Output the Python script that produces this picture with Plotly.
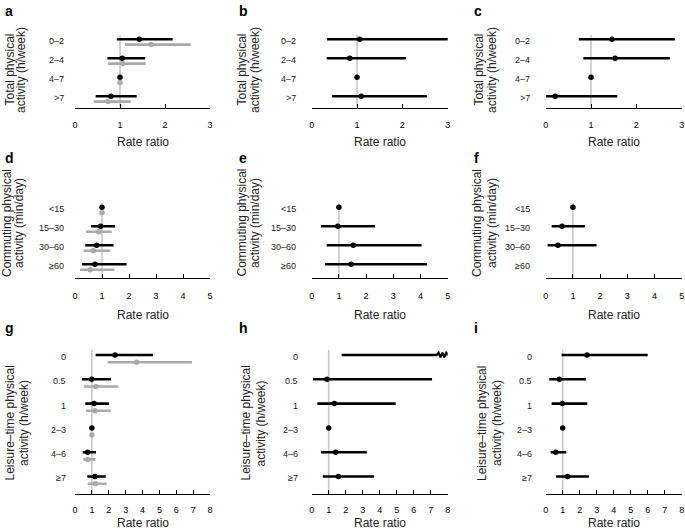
import plotly.graph_objects as go
import numpy as np

W, H = 685, 532
FONT = "Liberation Sans, Arial, Helvetica, sans-serif"

# ---------------- data ----------------
TOTAL_LABELS = ["0–2", "2–4", "4–7", ">7"]
COMMUTE_LABELS = ["<15", "15–30", "30–60", "≥60"]
LEISURE_LABELS = ["0", "0.5", "1", "2–3", "4–6", "≥7"]

X_MAX = [3, 5, 8]  # per row

YTITLES = [("Total physical", "activity (h/week)"),
           ("Commuting physical", "activity (min/day)"),
           ("Leisure–time physical", "activity (h/week)")]
XTITLE = "Rate ratio"
LETTERS = ["a", "b", "c", "d", "e", "f", "g", "h", "i"]

# panel a
a_est = [1.43, 1.05, 1.00, 0.80]
a_lo = [0.93, 0.72, 1.00, 0.46]
a_hi = [2.17, 1.56, 1.00, 1.37]
a2_est = [1.69, 1.06, 1.00, 0.73]
a2_lo = [1.11, 0.73, 1.00, 0.42]
a2_hi = [2.57, 1.57, 1.00, 1.24]
# panel b
b_est = [1.06, 0.84, 1.00, 1.09]
b_lo = [0.34, 0.33, 1.00, 0.45]
b_hi = [3.07, 2.08, 1.00, 2.54]
# panel c
c_est = [1.46, 1.53, 1.00, 0.21]
c_lo = [0.73, 0.83, 1.00, 0.01]
c_hi = [2.85, 2.74, 1.00, 1.58]
# panel d
d_est = [1.00, 0.95, 0.80, 0.74]
d_lo = [1.00, 0.59, 0.38, 0.26]
d_hi = [1.00, 1.48, 1.43, 1.91]
d2_est = [1.00, 0.88, 0.68, 0.56]
d2_lo = [1.00, 0.41, 0.32, 0.19]
d2_hi = [1.00, 1.36, 1.30, 1.46]
# panel e
e_est = [1.00, 0.96, 1.53, 1.45]
e_lo = [1.00, 0.34, 0.55, 0.49]
e_hi = [1.00, 2.33, 4.04, 4.24]
# panel f
f_est = [1.00, 0.60, 0.45, None]
f_lo = [1.00, 0.22, 0.07, None]
f_hi = [1.00, 1.45, 1.87, None]
# panel g
g_est = [2.37, 0.99, 1.13, 1.00, 0.75, 1.18]
g_lo = [1.22, 0.41, 0.61, 1.00, 0.46, 0.73]
g_hi = [4.62, 2.13, 2.01, 1.00, 1.24, 1.82]
g2_est = [3.65, 1.24, 1.18, 1.00, 0.75, 1.22]
g2_lo = [1.93, 0.53, 0.65, 1.00, 0.49, 0.75]
g2_hi = [6.93, 2.57, 2.11, 1.00, 1.21, 1.88]
# panel h (first row off-scale: estimate and upper limit beyond axis)
h_est = [None, 0.90, 1.33, 1.00, 1.41, 1.57]
h_lo = [1.76, 0.08, 0.33, 1.00, 0.55, 0.65]
h_hi = [None, 7.08, 4.94, 1.00, 3.24, 3.67]
H_BREAK = 7.35
# panel i
i_est = [2.43, 0.80, 0.98, 1.00, 0.59, 1.29]
i_lo = [0.94, 0.21, 0.35, 1.00, 0.29, 0.61]
i_hi = [6.00, 2.37, 2.45, 1.00, 1.21, 2.55]

BLACK = "#000000"
GREY = "#aaaaaa"

panels = [
    dict(labels=TOTAL_LABELS, series=[(a_est, a_lo, a_hi, BLACK), (a2_est, a2_lo, a2_hi, GREY)]),
    dict(labels=TOTAL_LABELS, series=[(b_est, b_lo, b_hi, BLACK)]),
    dict(labels=TOTAL_LABELS, series=[(c_est, c_lo, c_hi, BLACK)]),
    dict(labels=COMMUTE_LABELS, series=[(d_est, d_lo, d_hi, BLACK), (d2_est, d2_lo, d2_hi, GREY)]),
    dict(labels=COMMUTE_LABELS, series=[(e_est, e_lo, e_hi, BLACK)]),
    dict(labels=COMMUTE_LABELS, series=[(f_est, f_lo, f_hi, BLACK)]),
    dict(labels=LEISURE_LABELS, series=[(g_est, g_lo, g_hi, BLACK), (g2_est, g2_lo, g2_hi, GREY)]),
    dict(labels=LEISURE_LABELS, series=[(h_est, h_lo, h_hi, BLACK)], brk=H_BREAK),
    dict(labels=LEISURE_LABELS, series=[(i_est, i_lo, i_hi, BLACK)]),
]

# ---------------- geometry (pixels) ----------------
COL_P0 = [75, 311.7, 545.7]
COL_P1 = [210, 447.7, 681.7]
ROW_Y0 = [39.3, 207.3, 355.0]
ROW_STEP = [19.0, 19.0, 24.3]
ROW_AXIS = [107.5, 277.7, 494.3]
ROW_GREY = [5.3, 5.4, 7.2]
ROW_STANDOFF = [9, 9, 7]
ROW_XTITLE = [142, 315, 523]
LABEL_RIGHT = [[66, 298, 532], [66, 298, 532], [68, 300, 534]]
YTITLE_X = [[(9.5, 21), (241.5, 255), (478.5, 492)],
            [(7, 19), (241.5, 255), (477, 492)],
            [(9, 23.5), (245, 260), (481.5, 496.5)]]
YTITLE_Y = [70, 223, 423.5]
LETTER_X = [[3, 237, 472], [3, 237, 472], [3, 237, 472]]
LETTER_Y = [1, 148, 318]


def px_x(p):
    return p / W


def px_y(p):
    return 1 - p / H


fig = go.Figure()
layout = dict(width=W, height=H, margin=dict(l=0, r=0, t=0, b=0, autoexpand=False),
              paper_bgcolor="white", plot_bgcolor="white", showlegend=False,
              font=dict(family=FONT, color="black"))
shapes = []
annotations = []

for n, pan in enumerate(panels):
    r, c = divmod(n, 3)
    idx = "" if n == 0 else str(n + 1)
    xa, ya = "x" + idx, "y" + idx
    xmax = X_MAX[r]
    nrows = len(pan["labels"])
    step = ROW_STEP[r]
    axis_rows = (ROW_AXIS[r] - ROW_Y0[r]) / step
    top_rows = -0.6
    grey_off = ROW_GREY[r] / step

    layout["xaxis" + idx] = dict(
        domain=[px_x(COL_P0[c]), px_x(COL_P1[c])], range=[0, xmax],
        anchor=ya, tickvals=list(range(xmax + 1)), ticks="inside", ticklen=4,
        tickwidth=1, tickcolor="black", showline=True, linecolor="black",
        linewidth=1, showgrid=False, zeroline=False, fixedrange=True,
        automargin=False,
        tickfont=dict(size=9, family=FONT, color="black"),
        ticklabelstandoff=ROW_STANDOFF[r])
    layout["yaxis" + idx] = dict(
        domain=[px_y(ROW_AXIS[r]), px_y(ROW_Y0[r] + top_rows * step)],
        range=[axis_rows, top_rows], anchor=xa, showticklabels=False,
        showgrid=False, zeroline=False, showline=False, ticks="", fixedrange=True,
        automargin=False)

    # reference line at rate ratio 1
    shapes.append(dict(type="line", xref=xa, yref=ya, x0=1, x1=1,
                       y0=-0.22, y1=axis_rows, layer="below",
                       line=dict(color="#c8c8c8", width=1.6)))

    for s, (est, lo, hi, col) in enumerate(pan["series"]):
        off = grey_off if s == 1 else 0.0
        xs, ys, ep, em = [], [], [], []
        for k in range(nrows):
            if est[k] is None or hi[k] is None:
                continue
            xs.append(est[k])
            ys.append(k + off)
            ep.append(hi[k] - est[k])
            em.append(est[k] - lo[k])
        fig.add_trace(go.Scatter(
            x=xs, y=ys, mode="markers", xaxis=xa, yaxis=ya, cliponaxis=False,
            marker=dict(color=col, size=5.5, line=dict(width=0)),
            error_x=dict(type="data", symmetric=False, array=ep, arrayminus=em,
                         thickness=2.6, width=0, color=col),
            hoverinfo="skip"))
        # off-scale row with axis break symbol
        if "brk" in pan:
            for k in range(nrows):
                if est[k] is None and lo[k] is not None:
                    b = pan["brk"]
                    zx = b + np.linspace(0, 0.68, 7)
                    amp = 2.2 / step
                    zy = k + amp * np.array([0, -1, 1, -1, 1, -1, 0])
                    fig.add_trace(go.Scatter(
                        x=[lo[k]] + list(zx), y=[k] + list(zy), mode="lines",
                        xaxis=xa, yaxis=ya, cliponaxis=False,
                        line=dict(color=col, width=2.3), hoverinfo="skip"))

    # category labels
    for k, lab in enumerate(pan["labels"]):
        annotations.append(dict(text=lab, xref="paper", yref=ya,
                                x=px_x(LABEL_RIGHT[r][c]), y=k + 0.08,
                                xanchor="right", yanchor="middle", showarrow=False,
                                font=dict(size=9, family=FONT, color="#222222")))
    # y title (two separate lines, tight spacing)
    for line_txt, lx in zip(YTITLES[r], YTITLE_X[r][c]):
        annotations.append(dict(text=line_txt, xref="paper", yref="paper",
                                x=px_x(lx), y=px_y(YTITLE_Y[r]),
                                xanchor="center", yanchor="middle", textangle=-90,
                                showarrow=False,
                                font=dict(size=12, family=FONT, color="#222222")))
    # x title
    annotations.append(dict(text=XTITLE, xref="paper", yref="paper",
                            x=px_x((COL_P0[c] + COL_P1[c]) / 2), y=px_y(ROW_XTITLE[r]),
                            xanchor="center", yanchor="middle", showarrow=False,
                            font=dict(size=12, family=FONT, color="#222222")))
    # panel letter
    annotations.append(dict(text="<b>" + LETTERS[n] + "</b>", xref="paper", yref="paper",
                            x=px_x(LETTER_X[r][c]), y=px_y(LETTER_Y[r]),
                            xanchor="left", yanchor="top", showarrow=False,
                            font=dict(size=14, family=FONT, color="black")))

layout["shapes"] = shapes
layout["annotations"] = annotations
fig.update_layout(**layout)
fig.write_html("out.html", config={"displayModeBar": False},
               post_script="document.body.style.margin='0';document.body.style.overflow='hidden';")
